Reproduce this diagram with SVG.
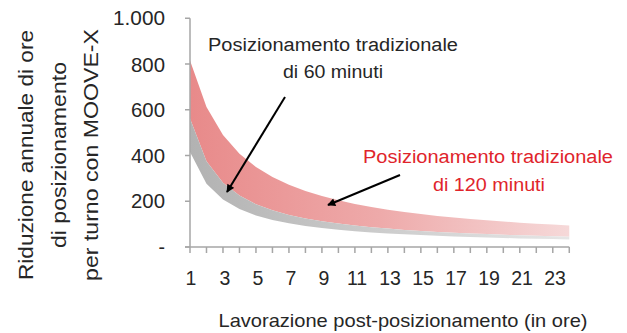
<svg xmlns="http://www.w3.org/2000/svg" width="627" height="333" viewBox="0 0 627 333">
<style>
text{font-family:"Liberation Sans","DejaVu Sans",Arial,sans-serif;fill:#262626}
.tick{font-size:19.5px}
.yl{text-anchor:end}
.xl{text-anchor:middle}
.title{font-size:21px;text-anchor:middle}
.ann{font-size:18px;text-anchor:middle}
.red{fill:#E0242B}
.axis{stroke:#A6A6A6;stroke-width:1.5;fill:none}
.arrow{stroke:#000;stroke-width:2;fill:none;marker-end:url(#ah)}
</style>
<defs>
<linearGradient id="gRed" x1="190" y1="0" x2="570" y2="0" gradientUnits="userSpaceOnUse">
<stop offset="0" stop-color="#E88A8A"/>
<stop offset="0.5" stop-color="#EEAAAA"/>
<stop offset="1" stop-color="#F6D9D9"/>
</linearGradient>
<linearGradient id="gGray" x1="190" y1="0" x2="570" y2="0" gradientUnits="userSpaceOnUse">
<stop offset="0" stop-color="#B2B2B2"/>
<stop offset="1" stop-color="#E6E6E6"/>
</linearGradient>
<marker id="ah" viewBox="0 0 10 10" refX="9" refY="5" markerWidth="10" markerHeight="8" markerUnits="userSpaceOnUse" orient="auto">
<path d="M0,0 L10,5 L0,10 z" fill="#000"/>
</marker>
</defs>
<g id="areas">
<polygon id="red-band" fill="url(#gRed)" points="190,60.4 206.49,107 222.98,135 239.47,153.7 255.96,167 272.45,177 288.94,184.8 305.43,191 321.92,196.1 338.41,200.3 354.9,203.9 371.39,207 387.88,209.7 404.37,212 420.86,214.1 437.35,215.9 453.84,217.5 470.33,219 486.82,220.3 503.31,221.5 519.8,222.7 536.29,223.7 552.78,224.6 569.27,225.5 569.27,236.7 552.78,236.3 536.29,235.8 519.8,235.3 503.31,234.8 486.82,234.1 470.33,233.5 453.84,232.7 437.35,231.9 420.86,230.9 404.37,229.9 387.88,228.6 371.39,227.2 354.9,225.6 338.41,223.6 321.92,221.3 305.43,218.4 288.94,214.9 272.45,210.3 255.96,204.2 239.47,195.6 222.98,182.7 206.49,161.3 190,118.5"/>
<polygon id="gray-band" fill="url(#gGray)" points="190,118.5 206.49,161.3 222.98,182.7 239.47,195.6 255.96,204.2 272.45,210.3 288.94,214.9 305.43,218.4 321.92,221.3 338.41,223.6 354.9,225.6 371.39,227.2 387.88,228.6 404.37,229.9 420.86,230.9 437.35,231.9 453.84,232.7 470.33,233.5 486.82,234.1 503.31,234.8 519.8,235.3 536.29,235.8 552.78,236.3 569.27,236.7 569.27,239.4 552.78,239.1 536.29,238.7 519.8,238.4 503.31,238 486.82,237.5 470.33,237 453.84,236.5 437.35,235.8 420.86,235.1 404.37,234.3 387.88,233.4 371.39,232.4 354.9,231.2 338.41,229.7 321.92,228 305.43,225.9 288.94,223.3 272.45,219.9 255.96,215.4 239.47,209 222.98,199.5 206.49,183.7 190,152.1"/>
</g>
<g id="y-axis">
<path class="axis" d="M190,18.3 V253 M185,18.3 H190 M185,64 H190 M185,109.8 H190 M185,155.5 H190 M185,201.3 H190 M185,247 H190"/>
<text class="tick yl" x="165" y="25" textLength="52" lengthAdjust="spacingAndGlyphs">1.000</text>
<text class="tick yl" x="165" y="71.5" textLength="34" lengthAdjust="spacingAndGlyphs">800</text>
<text class="tick yl" x="165" y="117" textLength="34" lengthAdjust="spacingAndGlyphs">600</text>
<text class="tick yl" x="165" y="162.5" textLength="34" lengthAdjust="spacingAndGlyphs">400</text>
<text class="tick yl" x="165" y="208" textLength="34" lengthAdjust="spacingAndGlyphs">200</text>
<text class="tick yl" x="165" y="254">-</text>
</g>
<g id="x-axis">
<path class="axis" d="M185,247 H569.3 M206.49,247 V253 M222.98,247 V253 M239.47,247 V253 M255.96,247 V253 M272.45,247 V253 M288.94,247 V253 M305.43,247 V253 M321.92,247 V253 M338.41,247 V253 M354.9,247 V253 M371.39,247 V253 M387.88,247 V253 M404.37,247 V253 M420.86,247 V253 M437.35,247 V253 M453.84,247 V253 M470.33,247 V253 M486.82,247 V253 M503.31,247 V253 M519.8,247 V253 M536.29,247 V253 M552.78,247 V253 M569.27,247 V253"/>
<text class="tick xl" x="191" y="284.5">1</text>
<text class="tick xl" x="225" y="284.5">3</text>
<text class="tick xl" x="258" y="284.5">5</text>
<text class="tick xl" x="291" y="284.5">7</text>
<text class="tick xl" x="324" y="284.5">9</text>
<text class="tick xl" x="357" y="284.5">11</text>
<text class="tick xl" x="390" y="284.5">13</text>
<text class="tick xl" x="423" y="284.5">15</text>
<text class="tick xl" x="456" y="284.5">17</text>
<text class="tick xl" x="489" y="284.5">19</text>
<text class="tick xl" x="522" y="284.5">21</text>
<text class="tick xl" x="555" y="284.5">23</text>
</g>
<g id="axis-titles">
<text class="title" transform="translate(33,155) rotate(-90)" textLength="250" lengthAdjust="spacingAndGlyphs">Riduzione annuale di ore</text>
<text class="title" transform="translate(65.5,155) rotate(-90)" textLength="186" lengthAdjust="spacingAndGlyphs">di posizionamento</text>
<text class="title" transform="translate(98,155) rotate(-90)" textLength="252" lengthAdjust="spacingAndGlyphs">per turno con MOOVE-X</text>
<text x="403" y="327" style="font-size:18.5px;text-anchor:middle" textLength="369" lengthAdjust="spacingAndGlyphs">Lavorazione post-posizionamento (in ore)</text>
</g>
<g id="label-60">
<text class="ann" x="333" y="51" textLength="250" lengthAdjust="spacingAndGlyphs">Posizionamento tradizionale</text>
<text class="ann" x="333" y="78" textLength="100" lengthAdjust="spacingAndGlyphs">di 60 minuti</text>
</g>
<g id="label-120">
<text class="ann red" x="488" y="163" textLength="250" lengthAdjust="spacingAndGlyphs">Posizionamento tradizionale</text>
<text class="ann red" x="489" y="190.5" textLength="112" lengthAdjust="spacingAndGlyphs">di 120 minuti</text>
</g>
<g id="connectors">
<line class="arrow" x1="285" y1="97" x2="227" y2="192"/>
<line class="arrow" x1="400" y1="175" x2="328" y2="205"/>
</g>
</svg>
